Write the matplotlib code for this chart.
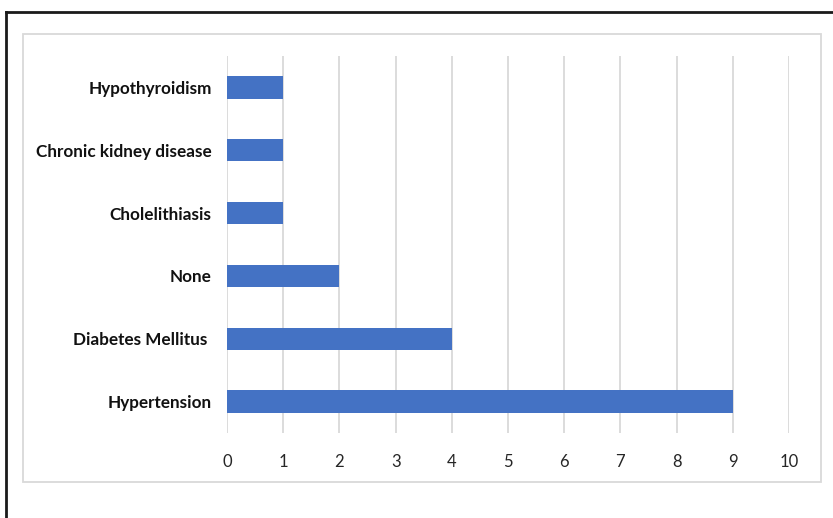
import matplotlib.pyplot as plt
from matplotlib.patches import Rectangle
from matplotlib.lines import Line2D

# DATA
categories = ['Hypertension', 'Diabetes Mellitus ', 'None', 'Cholelithiasis',
              'Chronic kidney disease', 'Hypothyroidism']
counts = [9, 4, 2, 1, 1, 1]
xticks = list(range(0, 11))

plt.rcParams['font.family'] = ['Lato', 'DejaVu Sans']

fig = plt.figure(figsize=(8.33, 5.18), dpi=100)
ax = fig.add_axes([227/833, 1-433/518, 562/833, 377/518])

ax.barh(categories, counts, height=0.355, color='#4472C4', zorder=3)

ax.set_xlim(0, 10)
ax.set_ylim(-0.5, 5.5)
ax.set_xticks(xticks)
ax.grid(axis='x', color='#D9D9D9', linewidth=1.3, zorder=0)
for s in ax.spines.values():
    s.set_visible(False)
ax.tick_params(axis='both', length=0)
ax.tick_params(axis='x', labelsize=12, labelcolor='#262626', pad=15)
ax.tick_params(axis='y', labelsize=12.3, pad=11)
for lab in ax.get_yticklabels():
    lab.set_fontweight('bold')
    lab.set_color('#111111')

# chart area border (light gray) and outer frame (top and left black lines)
fig.patches.append(Rectangle((23/833, 1-482/518), (821-23)/833, (482-34)/518,
                             transform=fig.transFigure, fill=False,
                             edgecolor='#D9D9D9', linewidth=1.3))
fig.lines.append(Line2D([6/833, 1], [1-11.5/518, 1-11.5/518],
                        transform=fig.transFigure, color='#1a1a1a', linewidth=2))
fig.lines.append(Line2D([6/833, 6/833], [0, 1-11.5/518],
                        transform=fig.transFigure, color='#1a1a1a', linewidth=2))

fig.savefig('out.png', dpi=100, facecolor='white')
